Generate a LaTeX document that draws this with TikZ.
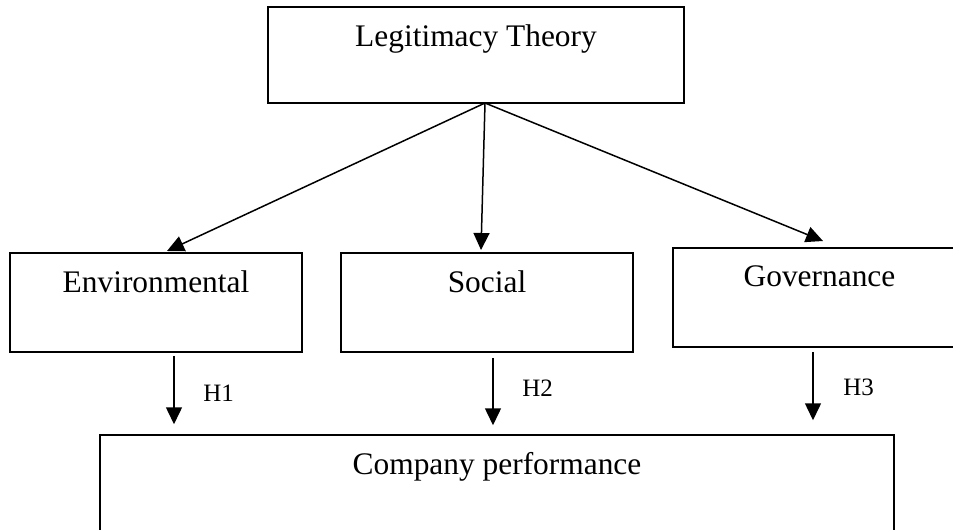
\documentclass[tikz,border=0pt]{standalone}
\usepackage{fontspec}
\setmainfont{Liberation Serif}
\usetikzlibrary{arrows.meta}

\begin{document}
\begin{tikzpicture}[x=0.5pt,y=-0.5pt,
  box/.style={draw,line width=0.75pt,inner sep=0pt},
  boxtext/.style={anchor=north,inner sep=0pt,yshift=-9pt,font=\fontsize{15.7}{18}\selectfont},
  hlabel/.style={font=\fontsize{12.5}{14}\selectfont},
  arr/.style={line width=0.75pt,-{Triangle[length=8.5pt,width=8pt]}}]
  \clip (0,0) rectangle (953,530);
  % boxes
  \node[box,minimum width=208pt,minimum height=48pt,label={[boxtext]north:Legitimacy Theory}] (theory) at (476,55) {};
  \node[box,minimum width=146pt,minimum height=49.5pt,label={[boxtext]north:Environmental}] (env) at (156,302.5) {};
  \node[box,minimum width=146pt,minimum height=49.5pt,label={[boxtext]north:Social}] (soc) at (487,302.5) {};
  \node[box,minimum width=146.5pt,minimum height=49.5pt,label={[boxtext]north:Governance}] (gov) at (819.5,297.5) {};
  \node[box,minimum width=397pt,minimum height=50pt,label={[boxtext]north:Company performance}] (perf) at (497,485) {};
  % arrows from the theory box
  \coordinate (apex) at (485,103);
  \coordinate (tipE) at (167,251);
  \coordinate (tipS) at (481,250);
  \coordinate (tipG) at (823,241);
  \draw[arr] (apex) -- (tipE);
  \draw[arr] (apex) -- (tipS);
  \draw[arr] (apex) -- (tipG);
  % hypotheses
  \draw[arr,shorten <=1.5pt,shorten >=5pt] ([xshift=9pt]env.south) -- ([xshift=9pt]env.south |- perf.north) node[hlabel,pos=0.5,right=11pt] (h1) {H1};
  \draw[arr,shorten <=2.5pt,shorten >=4.5pt] ([xshift=3pt]soc.south) -- ([xshift=3pt]soc.south |- perf.north) node[hlabel,pos=0.44,right=11pt] (h2) {H2};
  \draw[arr,shorten <=2pt,shorten >=7pt] ([xshift=-3.25pt]gov.south) -- ([xshift=-3.25pt]gov.south |- perf.north) node[hlabel,pos=0.46,right=11.5pt] (h3) {H3};
\end{tikzpicture}
\end{document}
